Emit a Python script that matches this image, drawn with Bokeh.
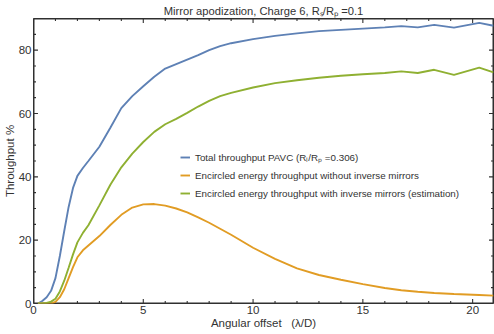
from bokeh.plotting import figure
from bokeh.models import LinearAxis, Range1d, FixedTicker, Legend, LegendItem
from bokeh.embed import file_html
from bokeh.resources import INLINE

# ---------------- data ----------------
angular_offset = [0.2, 0.4, 0.6, 0.8, 1.0, 1.2, 1.4, 1.6, 1.8, 2.0, 2.25, 2.5, 3.0, 3.5,
                  4.0, 4.5, 5.0, 5.5, 6.0, 6.5, 7.0, 7.5, 8.0, 8.5, 9.0, 10, 11, 12, 13,
                  14, 15, 16, 16.75, 17.5, 18.25, 19.15, 20.3, 20.95]
total_pavc = [0, 0.8, 2.0, 4.0, 8.0, 15.0, 22.9, 30.5, 36.5, 40.3, 42.8, 45.0, 49.5, 55.5,
              61.7, 65.5, 68.6, 71.6, 74.2, 75.6, 77.0, 78.4, 80.0, 81.3, 82.2, 83.5, 84.5,
              85.3, 86.0, 86.4, 86.8, 87.2, 87.6, 87.2, 88.0, 87.1, 88.6, 87.7]
ee_without_inverse = [0, 0, 0, 0, 0.5, 2.0, 4.5, 8.0, 11.5, 14.6, 16.8, 18.3, 21.3, 24.8,
                      28.0, 30.3, 31.3, 31.4, 30.9, 30.0, 28.8, 27.2, 25.5, 23.6, 21.7, 17.6,
                      14.1, 11.1, 9.0, 7.5, 6.1, 4.9, 4.2, 3.7, 3.3, 3.0, 2.7, 2.5]
ee_with_inverse = [0, 0, 0.2, 0.6, 1.5, 3.8, 7.2, 11.3, 15.5, 19.3, 22.3, 24.7, 31.0, 37.5,
                   43.0, 47.3, 51.0, 54.2, 56.6, 58.3, 60.2, 62.2, 64.0, 65.5, 66.5, 68.2,
                   69.6, 70.5, 71.3, 71.9, 72.4, 72.8, 73.3, 72.8, 73.8, 72.2, 74.5, 73.0]

x_range_limits = (0, 20.95)
y_range_limits = (0, 90)
x_major_ticks = [0, 5, 10, 15, 20]
x_minor_ticks = list(range(0, 22))
y_major_ticks = [0, 20, 40, 60, 80]
y_minor_ticks = list(range(0, 95, 5))

series_colors = ["#5E81B5", "#E19C24", "#8FB032"]
series_names = [
    "Total throughput PAVC (R\u2097/R\u209a =0.306)",
    "Encircled energy throughput without inverse mirrors",
    "Encircled energy throughput with inverse mirrors (estimation)",
]
title_text = "Mirror apodization, Charge 6, R\u209b/R\u209a =0.1"
x_label = "Angular offset \u00a0 (\u03bb/D)"
y_label = "Throughput %"

# ---------------- layout ----------------
W, H = 494, 334
ML, MR, MT, MB = 30, 1, 17, 31
FONT = "Liberation Sans"
TXT = "#333333"
FRAME = "#303030"

p = figure(width=W, height=H, output_backend="svg", toolbar_location=None,
           x_range=Range1d(*x_range_limits), y_range=Range1d(*y_range_limits),
           x_axis_location=None, y_axis_location=None,
           min_border_left=ML, min_border_right=MR, min_border_top=MT, min_border_bottom=MB)
p.outline_line_color = FRAME
p.outline_line_width = 1
p.grid.visible = False

p.title.text = title_text
p.title.text_font = FONT
p.title.text_font_size = "11.2px"
p.title.text_font_style = "normal"
p.title.text_color = TXT
p.title.align = "center"
p.title.standoff = 4
p.title.offset = -3


def make_axis(major, label):
    ax = LinearAxis(ticker=FixedTicker(ticks=major))
    ax.axis_line_color = None
    ax.major_tick_line_color = None
    ax.minor_tick_line_color = None
    ax.major_tick_in = 0
    ax.major_tick_out = 0
    ax.minor_tick_in = 0
    ax.minor_tick_out = 0
    ax.major_label_text_font = FONT
    ax.major_label_text_color = TXT
    ax.major_label_text_font_size = "11.5px"
    ax.major_label_standoff = 2
    ax.axis_label = label
    ax.axis_label_text_font = FONT
    ax.axis_label_text_font_size = "11.5px"
    ax.axis_label_text_font_style = "normal"
    ax.axis_label_text_color = TXT
    ax.axis_label_standoff = 0
    return ax


p.add_layout(make_axis(x_major_ticks, x_label), "below")
p.add_layout(make_axis(y_major_ticks, y_label), "left")

# ---- frame and inward ticks, drawn with the same line glyph as the data ----
x0, x1 = x_range_limits
y0, y1 = y_range_limits
dx_px = (x1 - x0) / (W - ML - MR)   # data units per pixel
dy_px = (y1 - y0) / (H - MT - MB)
MAJ, MIN = 4.5, 2.5
NAN = float("nan")

fx = [x0, x1, x1, x0, x0]
fy = [y0, y0, y1, y1, y0]
p.line(fx, fy, line_color=FRAME, line_width=2)

tx, ty = [], []
minor_x = [t for t in x_minor_ticks if t not in x_major_ticks]
minor_y = [t for t in y_minor_ticks if t not in y_major_ticks]
for ticks, length in ((x_major_ticks, MAJ), (minor_x, MIN)):
    for t in ticks:
        tx.extend([t, t, NAN, t, t, NAN])
        ty.extend([y0, y0 + length * dy_px, NAN, y1, y1 - length * dy_px, NAN])
for ticks, length in ((y_major_ticks, MAJ), (minor_y, MIN)):
    for t in ticks:
        tx.extend([x0, x0 + length * dx_px, NAN, x1, x1 - length * dx_px, NAN])
        ty.extend([t, t, NAN, t, t, NAN])
p.line(tx, ty, line_color=FRAME, line_width=1.1)

series = [total_pavc, ee_without_inverse, ee_with_inverse]
items = []
for vals, col, name in zip(series, series_colors, series_names):
    r = p.line(angular_offset, vals, line_color=col, line_width=1.9)
    items.append(LegendItem(label=name, renderers=[r]))

legend = Legend(items=items, location=(147, 101))
legend.border_line_color = None
legend.background_fill_alpha = 0
legend.padding = 0
legend.margin = 0
legend.spacing = 0
legend.glyph_width = 10
legend.glyph_height = 18
legend.label_height = 18
legend.label_standoff = 5
legend.label_text_font = FONT
legend.label_text_font_size = "9.8px"
legend.label_text_color = TXT
p.add_layout(legend)

open("out.html", "w").write(file_html(p, INLINE))
